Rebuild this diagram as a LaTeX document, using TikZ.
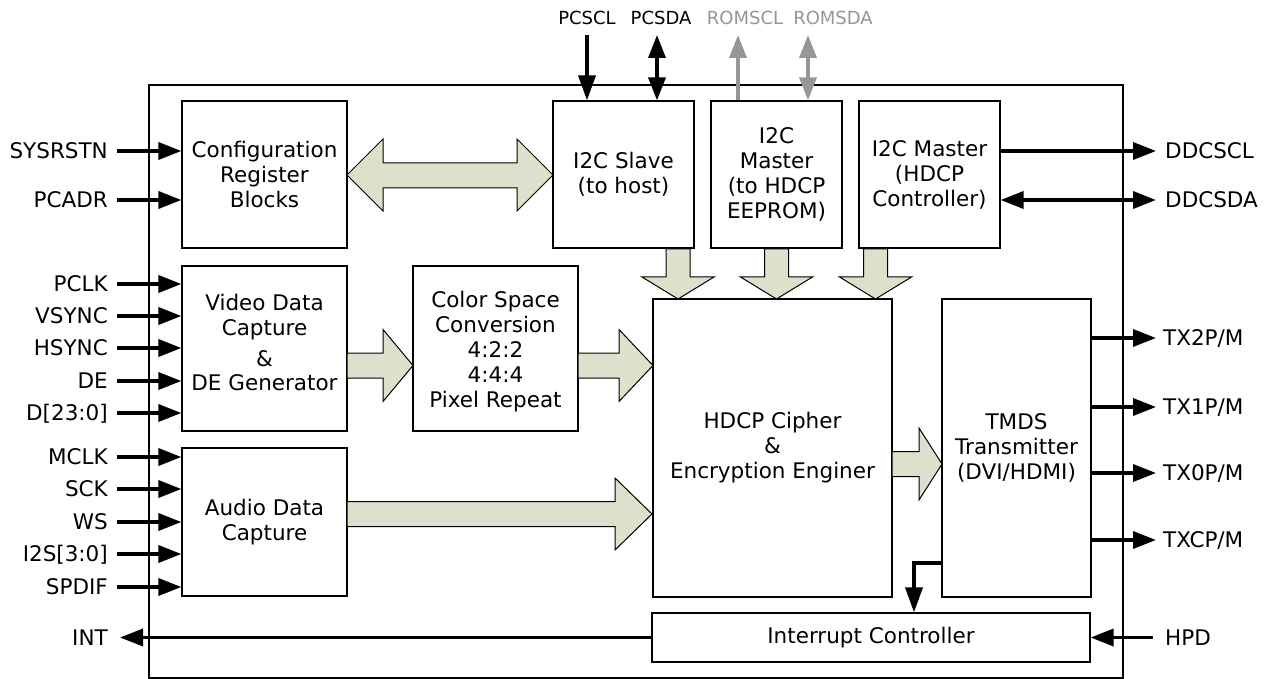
\documentclass[tikz,border=0pt]{standalone}
\usepackage{fontspec}
\setmainfont{DejaVu Sans}
\usetikzlibrary{arrows.meta}
\definecolor{fatfill}{RGB}{221,225,204}
\definecolor{romgray}{RGB}{150,150,150}
\newcommand\fatR[4]{%
  \draw[fat] (#1,#4-12.5) -- (#2,#4-12.5) -- (#2,#4-36) -- (#3,#4) -- (#2,#4+36) -- (#2,#4+12.5) -- (#1,#4+12.5) -- cycle;}
\newcommand\fatD[4]{%
  \draw[fat] (#1-12,#2) -- (#1-12,#3) -- (#1-36,#3) -- (#1,#4) -- (#1+36,#3) -- (#1+12,#3) -- (#1+12,#2) -- cycle;}
\begin{document}
\begin{tikzpicture}[x=1pt,y=-1pt,
  font=\fontsize{21.5}{25}\selectfont,
  blk/.style={draw, line width=1.2pt, align=center, inner sep=0pt},
  txt/.style={align=center, inner sep=0pt},
  sig/.style={line width=3.5pt, -{Triangle[length=23pt,width=17pt]}},
  dsig/.style={line width=3.5pt, {Triangle[length=23pt,width=17pt]}-{Triangle[length=23pt,width=17pt]}},
  fat/.style={draw, fill=fatfill, line width=1pt, line join=miter},
  lab/.style={inner sep=0pt, text height=15.7pt, text depth=0pt},
  toplab/.style={inner sep=0pt, font=\fontsize{18}{20}\selectfont, text height=13pt, text depth=0pt}]
\useasboundingbox (0,0) rectangle (1270,679);

% outer frame
\draw[line width=1.2pt] (149,85) rectangle (1123,678);

% blocks
\node[blk, minimum width=165pt, minimum height=147pt] (cfg) at (264.5,174.5) {Configuration\\Register\\Blocks};
\node[blk, minimum width=141pt, minimum height=147pt] (slv) at (623.5,174.5) {I2C Slave\\(to host)};
\node[blk, minimum width=131pt, minimum height=147pt] (mst) at (776.5,174.5) {I2C\\Master\\(to HDCP\\EEPROM)};
\node[blk, minimum width=141pt, minimum height=147pt] (hmc) at (929.5,174.5) {I2C Master\\(HDCP\\Controller)};
\node[blk, minimum width=165pt, minimum height=165pt] (vid) at (264.5,348.5) {};
\node[txt] (vidt) at ([yshift=6pt]vid.center) {Video Data\\Capture\\[6pt]\&\\[-1pt]DE Generator};
\node[blk, minimum width=165pt, minimum height=165pt] (csc) at (495.5,348.5) {};
\node[txt] (csct) at ([yshift=-3pt]csc.center) {Color Space\\Conversion\\4:2:2\\4:4:4\\Pixel Repeat};
\node[blk, minimum width=239pt, minimum height=298pt] (hdcp) at (772.5,448) {HDCP Cipher\\\&\\Encryption Enginer};
\node[blk, minimum width=149pt, minimum height=298pt] (tmds) at (1016.5,448) {TMDS\\Transmitter\\(DVI/HDMI)};
\node[blk, minimum width=165pt, minimum height=148pt] (aud) at (264.5,522) {Audio Data\\Capture};
\node[blk, minimum width=438pt, minimum height=49pt] (irq) at (871,637.5) {Interrupt Controller};

% fat arrows
\draw[fat] (347,175) -- (383,139) -- (383,163) -- (517,163) -- (517,139) -- (553,175) -- (517,211) -- (517,188) -- (383,188) -- (383,211) -- cycle;
\fatD{678}{249}{277}{299}
\fatD{776.5}{249}{277}{299}
\fatD{875.5}{249}{277}{299}
\fatR{347}{383}{413}{365.5}
\fatR{578}{619}{653}{365.5}
\fatR{347}{615}{652}{514}
\fatR{892}{919}{942}{464}

% left signals
\foreach \n/\t/\y/\b in {SYS/SYSRSTN/151/cfg, ADR/PCADR/200/cfg,
  PCLK/PCLK/284/vid, VS/VSYNC/316/vid, HS/HSYNC/348/vid, DE/DE/381/vid, D/{D[23:0]}/413/vid,
  MCLK/MCLK/457/aud, SCK/SCK/489/aud, WS/WS/522/aud, IIS/{I2S[3:0]}/554/aud, SPD/SPDIF/587/aud}{
  \node[lab, anchor=east] (l\n) at (108,\y) {\t};
  \draw[sig] ([xshift=9pt]l\n.east) -- (\b.west |- l\n.east);
}
\node[lab, anchor=east] (lINT) at (108,637.5) {INT};
\draw[sig] (irq.west |- lINT.east) -- ([xshift=12pt]lINT.east);

% right signals
\node[lab, anchor=west] (rSCL) at (1165,151) {DDCSCL};
\node[lab, anchor=west] (rSDA) at (1165,200) {DDCSDA};
\draw[sig] (hmc.east |- rSCL.west) -- ([xshift=-9pt]rSCL.west);
\draw[dsig] (hmc.east |- rSDA.west) -- ([xshift=-9pt]rSDA.west);
\foreach \n/\t/\y in {T2/TX2P\slash M/338, T1/TX1P\slash M/407, T0/TX0P\slash M/473, TC/TXCP\slash M/540}{
  \node[lab, anchor=west] (r\n) at (1163,\y) {\t};
  \draw[sig] (tmds.east |- r\n.west) -- ([xshift=-7pt]r\n.west);
}
\node[lab, anchor=west] (rHPD) at (1165,637.5) {HPD};
\draw[sig] ([xshift=-12pt]rHPD.west) -- (irq.east |- rHPD.west);

% TMDS -> interrupt
\coordinate (tq) at (914,563);
\draw[sig, -{Triangle[length=25pt,width=17pt]}] (tmds.west |- tq) -| (tq |- irq.north);

% top signals
\node[toplab] (tPSCL) at (587,18) {PCSCL};
\node[toplab] (tPSDA) at (661,18) {PCSDA};
\node[toplab, text=romgray] (tRSCL) at (745,18) {ROMSCL};
\node[toplab, text=romgray] (tRSDA) at (833,18) {ROMSDA};
\coordinate (aPSCL) at (587,35);
\coordinate (aPSDA) at (657,35);
\coordinate (aRSCL) at (738,35);
\coordinate (aRSDA) at (808,35);
\draw[sig, -{Triangle[length=25pt,width=17pt]}] (aPSCL) -- (aPSCL |- slv.north);
\draw[dsig] (aPSDA) -- (aPSDA |- slv.north);
\draw[sig, romgray] (aRSCL |- mst.north) -- (aRSCL);
\draw[dsig, romgray] (aRSDA) -- (aRSDA |- mst.north);
\end{tikzpicture}
\end{document}
